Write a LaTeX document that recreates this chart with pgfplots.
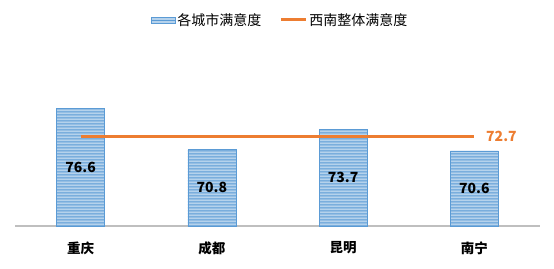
\documentclass[border=0pt]{standalone}
\usepackage{fontspec}
\setmainfont{Noto Sans CJK SC}
\usepackage{pgfplots}
\pgfplotsset{compat=1.18}
\usetikzlibrary{patterns}
\definecolor{c1}{HTML}{5B9BD5}
\definecolor{c2}{HTML}{ED7D31}
\pgfdeclarepatternformonly{hstripes}{\pgfpoint{0pt}{0pt}}{\pgfpoint{200pt}{3pt}}{\pgfpoint{200pt}{3pt}}{\pgfpathrectangle{\pgfpoint{-1pt}{0.75pt}}{\pgfpoint{202pt}{1.5pt}}\pgfusepath{fill}}
\begin{document}
\begin{tikzpicture}
\useasboundingbox (0,0) rectangle (554pt,268pt);
\begin{axis}[
  at={(15pt,42pt)}, anchor=south west,
  scale only axis, width=525pt, height=184pt,
  xmin=-0.5, xmax=3.5, ymin=60, ymax=86,
  axis y line=none,
  axis x line=bottom,
  x axis line style={draw=black!25, line width=1.5pt, -},
  xtick={0,1,2,3}, xticklabels={重庆,成都,昆明,南宁},
  major tick length=0pt,
  xticklabel style={font=\fontsize{13.5}{14}\selectfont\bfseries, yshift=-12pt},
  legend style={draw=none, at={(0.505,1.12)}, anchor=center, legend columns=2,
    font=\fontsize{14}{15}\selectfont,
    /tikz/every even column/.append style={column sep=16pt}},
  clip=false,
]
\addplot[ybar, bar width=48pt, bar shift=0pt, draw=c1, line width=0.6pt, fill=c1!45,
  postaction={pattern=hstripes, pattern color=c1},
  visualization depends on={y \as \rawy},
  nodes near coords={\pgfmathprintnumber[fixed,fixed zerofill,precision=1,assume math mode=true]{\pgfplotspointmeta}},
  every node near coord/.append style={anchor=center, text=black,
    font=\fontsize{14}{15}\selectfont\bfseries,
    shift={(axis direction cs:0,{-(\rawy-60)/2})}},
  legend image code/.code={
    \fill[c1!45] (0pt,-3pt) rectangle (24pt,3pt);
    \fill[pattern=hstripes, pattern color=c1] (0pt,-3pt) rectangle (24pt,3pt);}
] coordinates {(0,76.6) (1,70.8) (2,73.7) (3,70.6)};
\addlegendentry{各城市满意度}
\addplot[c2, line width=3pt, mark=none,
  legend image code/.code={\draw[c2, line width=3pt] (0pt,0pt) -- (25pt,0pt);}]
  coordinates {(0,72.7) (3,72.7)}
  node[pos=1, anchor=west, xshift=7pt, text=c2, font=\fontsize{14}{15}\selectfont\bfseries] {72.7};
\addlegendentry{西南整体满意度}
\end{axis}
\end{tikzpicture}
\end{document}
